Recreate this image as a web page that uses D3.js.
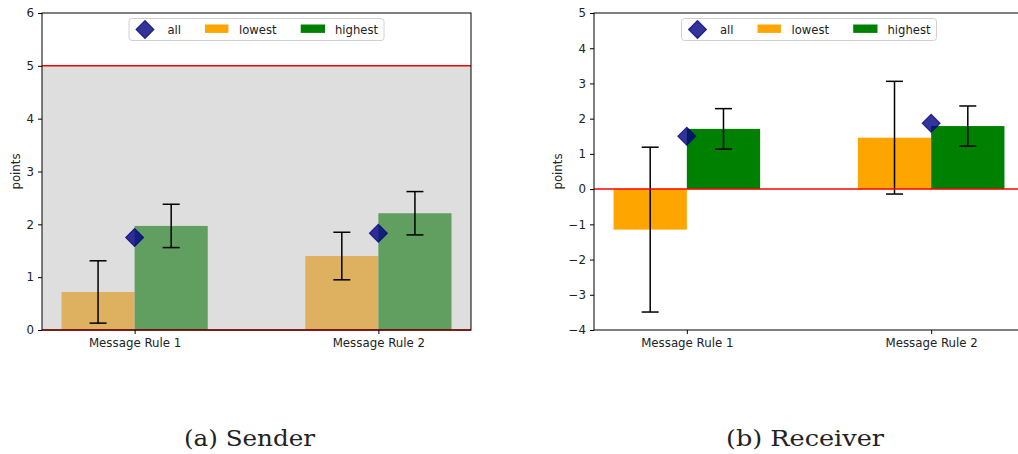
<!DOCTYPE html>
<html>
<head>
<meta charset="utf-8">
<script src="https://cdn.jsdelivr.net/npm/d3@7"></script>
<style>
  body { margin: 0; background: #fff; overflow: hidden; }
  svg { display: block; }
  text { font-family: "DejaVu Sans", sans-serif; fill: #222; }
</style>
</head>
<body>
<svg id="chart" width="1018" height="454"></svg>
<script>
// categories and values
const categories = ["Message Rule 1", "Message Rule 2"];

const senderLowest = [0.72, 1.40];
const senderLowestErr = [0.59, 0.45];
const senderHighest = [1.97, 2.21];
const senderHighestErr = [0.41, 0.41];
const senderAll = [1.75, 1.83];

const receiverLowest = [-1.15, 1.46];
const receiverLowestErr = [2.34, 1.60];
const receiverHighest = [1.71, 1.79];
const receiverHighestErr = [0.575, 0.57];
const receiverAll = [1.50, 1.87];

const senderTicks = [0, 1, 2, 3, 4, 5, 6];
const receiverTicks = [-4, -3, -2, -1, 0, 1, 2, 3, 4, 5];

const legendLabels = ["all", "lowest", "highest"];
const captions = ["(a) Sender", "(b) Receiver"];

const svg = d3.select("#chart");

const panels = [
  { left: 42, right: 471, yDomain: [0, 6], ticks: senderTicks, band: [0, 5], redLines: [0, 5],
    lowest: senderLowest, lowestErr: senderLowestErr, highest: senderHighest, highestErr: senderHighestErr,
    all: senderAll, caption: captions[0], capX: 249.5, capW: 131, labelOff: 22 },
  { left: 594, right: 1024, yDomain: [-4, 5], ticks: receiverTicks, band: null, redLines: [0],
    lowest: receiverLowest, lowestErr: receiverLowestErr, highest: receiverHighest, highestErr: receiverHighestErr,
    all: receiverAll, caption: captions[1], capX: 805, capW: 158, labelOff: 32 }
];

const plotTop = 13, plotBottom = 330;
const barW = 0.3;

panels.forEach(p => {
  const x = d3.scaleLinear().domain([-0.38, 1.38]).range([p.left, p.right]);
  const y = d3.scaleLinear().domain(p.yDomain).range([plotBottom, plotTop]);
  const g = svg.append("g");

  // bars
  const barData = [];
  categories.forEach((c, i) => {
    barData.push({ x0: i - barW, v: p.lowest[i], e: p.lowestErr[i], color: "#ffa500" });
    barData.push({ x0: i, v: p.highest[i], e: p.highestErr[i], color: "#008000" });
  });
  g.selectAll("rect.bar").data(barData).enter().append("rect")
    .attr("class", "bar")
    .attr("x", d => x(d.x0))
    .attr("width", d => x(d.x0 + barW) - x(d.x0))
    .attr("y", d => y(Math.max(0, d.v)))
    .attr("height", d => Math.abs(y(d.v) - y(0)))
    .attr("fill", d => d.color);

  // grey shaded band laid over the bars
  if (p.band) {
    g.append("rect")
      .attr("x", p.left).attr("width", p.right - p.left)
      .attr("y", y(p.band[1])).attr("height", y(p.band[0]) - y(p.band[1]))
      .attr("fill", "rgb(190,190,190)").attr("fill-opacity", 0.506);
  }

  // error bars
  const eb = g.selectAll("g.err").data(barData).enter().append("g")
    .attr("stroke", "#000").attr("stroke-width", 1.5);
  eb.append("line")
    .attr("x1", d => x(d.x0 + barW / 2)).attr("x2", d => x(d.x0 + barW / 2))
    .attr("y1", d => y(d.v - d.e)).attr("y2", d => y(d.v + d.e));
  [-1, 1].forEach(s => {
    eb.append("line")
      .attr("x1", d => x(d.x0 + barW / 2) - 8.5).attr("x2", d => x(d.x0 + barW / 2) + 8.5)
      .attr("y1", d => y(d.v + s * d.e)).attr("y2", d => y(d.v + s * d.e));
  });

  // red reference lines
  g.selectAll("line.red").data(p.redLines).enter().append("line")
    .attr("x1", p.left).attr("x2", p.right)
    .attr("y1", d => y(d)).attr("y2", d => y(d))
    .attr("stroke", "#ff0000").attr("stroke-width", 1.5);

  // "all" diamonds
  const diamond = d3.symbol().type(d3.symbolSquare).size(162);
  g.selectAll("path.all").data(p.all).enter().append("path")
    .attr("d", diamond)
    .attr("transform", (d, i) => `translate(${x(i)},${y(d)}) rotate(45)`)
    .attr("fill", "#000080").attr("fill-opacity", 0.8)
    .attr("stroke", "#000080").attr("stroke-opacity", 0.8).attr("stroke-width", 1);

  // frame
  g.append("rect")
    .attr("x", p.left).attr("y", plotTop)
    .attr("width", p.right - p.left).attr("height", plotBottom - plotTop)
    .attr("fill", "none").attr("stroke", "#000").attr("stroke-width", 1);

  // axes
  const yAxis = g.append("g").attr("transform", `translate(${p.left},0)`)
    .call(d3.axisLeft(y).tickValues(p.ticks).tickFormat(d3.format("d")).tickSize(4).tickPadding(4));
  const xAxis = g.append("g").attr("transform", `translate(0,${plotBottom})`)
    .call(d3.axisBottom(x).tickValues([0, 1]).tickFormat(i => categories[i]).tickSize(4).tickPadding(5));
  [yAxis, xAxis].forEach(a => {
    a.select(".domain").remove();
    a.selectAll("text").attr("font-size", 11.8).attr("font-family", "DejaVu Sans").attr("fill", "#222");
    a.selectAll("line").attr("stroke", "#000");
  });

  g.append("text")
    .attr("transform", `translate(${p.left - p.labelOff},${(plotTop + plotBottom) / 2}) rotate(-90)`)
    .attr("text-anchor", "middle").attr("font-size", 11.8)
    .text("points");

  // legend, upper center
  const lw = 255, lh = 22;
  const lx = (p.left + p.right) / 2 - lw / 2, ly = 18.5;
  const lg = g.append("g").attr("transform", `translate(${lx},${ly})`);
  lg.append("rect").attr("width", lw).attr("height", lh).attr("rx", 3)
    .attr("fill", "#fff").attr("fill-opacity", 0.8)
    .attr("stroke", "#d0d0d0").attr("stroke-width", 1);
  lg.append("path").attr("d", diamond)
    .attr("transform", `translate(16,${lh / 2}) rotate(45)`)
    .attr("fill", "#000080").attr("fill-opacity", 0.8)
    .attr("stroke", "#000080").attr("stroke-opacity", 0.8);
  lg.append("rect").attr("x", 76).attr("y", 6).attr("width", 23.4).attr("height", 8.4).attr("fill", "#ffa500");
  lg.append("rect").attr("x", 171.7).attr("y", 6).attr("width", 24.3).attr("height", 8.4).attr("fill", "#008000");
  const textX = [38.5, 110, 206];
  lg.selectAll("text.leg").data(legendLabels).enter().append("text")
    .attr("x", (d, i) => textX[i]).attr("y", lh / 2 + 4.2)
    .attr("font-size", 11.6).text(d => d);

  // caption
  svg.append("text")
    .attr("x", p.capX).attr("y", 446)
    .attr("text-anchor", "middle")
    .attr("font-size", 23)
    .attr("textLength", p.capW).attr("lengthAdjust", "spacingAndGlyphs")
    .style("font-family", "'DejaVu Serif', serif")
    .text(p.caption);
});
</script>
</body>
</html>
